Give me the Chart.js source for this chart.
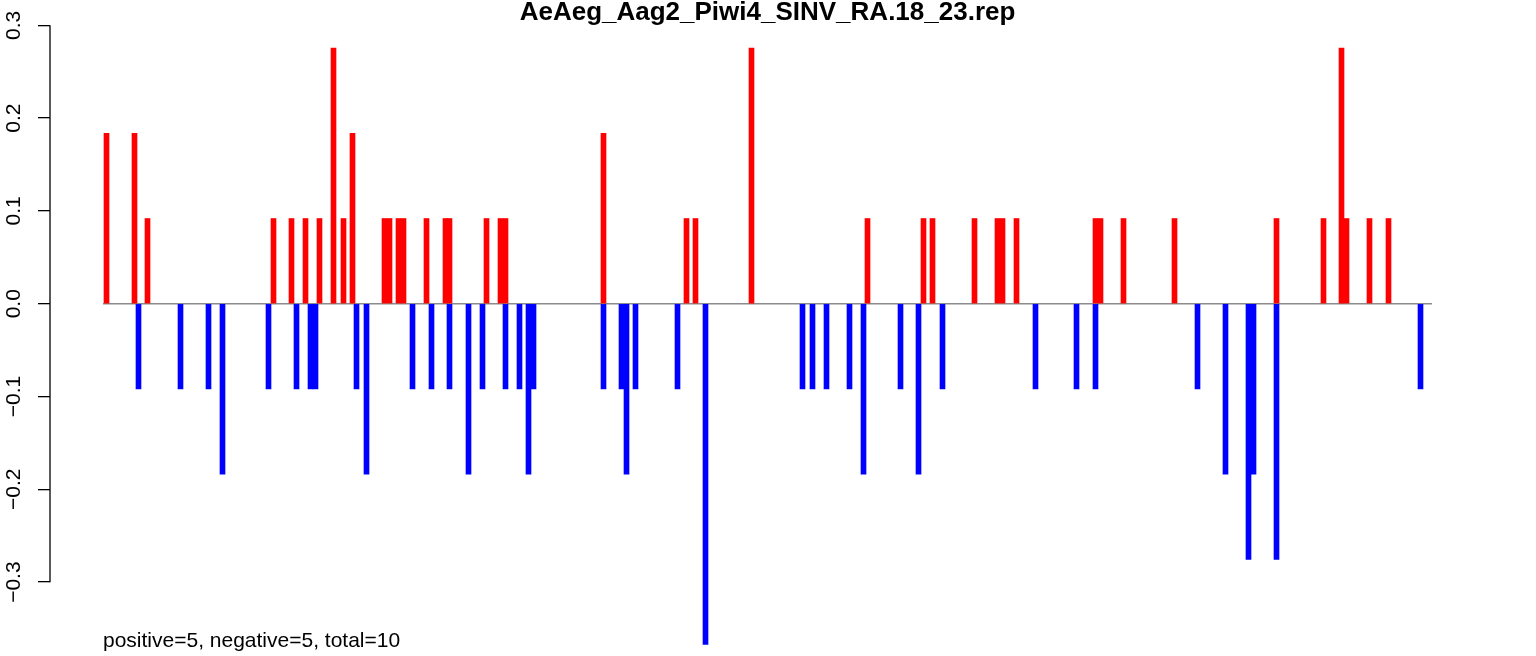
<!DOCTYPE html>
<html>
<head>
<meta charset="utf-8">
<script src="https://cdn.jsdelivr.net/npm/chart.js@4.4.1/dist/chart.umd.min.js"></script>
<style>
  body { margin: 0; background: #fff; }
  canvas { display: block; }
</style>
</head>
<body>
<canvas id="myChart" width="1536" height="656"></canvas>
<script>
// data: positions along the genome, values per position
const genomeRange = [0, 1329];

const posPositions = [3.5, 31.5, 44.5, 170.5, 188.5, 202.5, 216.5, 230.5, 240.5, 249.5,
  281.5, 286.5, 295.5, 300.5, 323.5, 342.5, 346.5, 383.5, 397.5, 402.5,
  500.5, 583.5, 592.5, 648.5, 764.5, 820.5, 829.5, 871.5, 894.5, 899.5,
  913.5, 992.5, 997.5, 1020.5, 1071.5, 1173.5, 1220.5, 1238.5, 1243.5, 1266.5, 1285.5];
const posValues = [0.1836, 0.1836, 0.0918, 0.0918, 0.0918, 0.0918, 0.0918, 0.2754, 0.0918, 0.1836,
  0.0918, 0.0918, 0.0918, 0.0918, 0.0918, 0.0918, 0.0918, 0.0918, 0.0918, 0.0918,
  0.1836, 0.0918, 0.0918, 0.2754, 0.0918, 0.0918, 0.0918, 0.0918, 0.0918, 0.0918,
  0.0918, 0.0918, 0.0918, 0.0918, 0.0918, 0.0918, 0.0918, 0.2754, 0.0918, 0.0918, 0.0918];

const negPositions = [35.5, 77.5, 105.5, 119.5, 165.5, 193.5, 207.5, 212.5, 253.5, 263.5,
  309.5, 328.5, 346.5, 365.5, 379.5, 402.5, 416.5, 425.5, 430.5, 500.5,
  518.5, 523.5, 532.5, 574.5, 602.5, 699.5, 709.5, 723.5, 746.5, 760.5,
  797.5, 815.5, 839.5, 932.5, 973.5, 992.5, 1094.5, 1122.5, 1145.5, 1150.5,
  1173.5, 1317.5];
const negValues = [-0.0918, -0.0918, -0.0918, -0.1836, -0.0918, -0.0918, -0.0918, -0.0918, -0.0918, -0.1836,
  -0.0918, -0.0918, -0.0918, -0.1836, -0.0918, -0.0918, -0.0918, -0.1836, -0.0918, -0.0918,
  -0.0918, -0.1836, -0.0918, -0.0918, -0.3672, -0.0918, -0.0918, -0.0918, -0.0918, -0.1836,
  -0.0918, -0.1836, -0.0918, -0.0918, -0.0918, -0.0918, -0.0918, -0.1836, -0.2754, -0.1836,
  -0.2754, -0.0918];

const yTicks = [-0.3, -0.2, -0.1, 0.0, 0.1, 0.2, 0.3];

const chartTitle = 'AeAeg_Aag2_Piwi4_SINV_RA.18_23.rep';
const footerText = 'positive=5, negative=5, total=10';

const fontFamily = "'Liberation Sans', Arial, Helvetica, sans-serif";

const toPoints = (xs, ys) => xs.map((x, i) => ({ x: x, y: ys[i] }));

const fmtTick = (v) => (v < 0 ? '\u2212' : '') + Math.abs(v).toFixed(1);

// R style axis line (only over the tick range) and the bottom note
const extrasPlugin = {
  id: 'extras',
  afterDraw(chart) {
    const ctx = chart.ctx;
    const y = chart.scales.y;
    const x = chart.scales.x;
    ctx.save();
    ctx.strokeStyle = '#000';
    ctx.lineWidth = 1.3;
    ctx.beginPath();
    ctx.moveTo(y.right, y.getPixelForValue(yTicks[yTicks.length - 1]));
    ctx.lineTo(y.right, y.getPixelForValue(yTicks[0]));
    ctx.stroke();

    ctx.fillStyle = '#000';
    ctx.font = '21px ' + fontFamily;
    ctx.textAlign = 'left';
    ctx.textBaseline = 'alphabetic';
    ctx.fillText(footerText, x.getPixelForValue(genomeRange[0]), 646.5);
    ctx.restore();
  }
};

const Config = {
  type: 'bar',
  data: {
    datasets: [
      {
        label: 'baseline',
        type: 'line',
        data: toPoints(genomeRange, [0, 0]),
        borderColor: '#8c8c8c',
        borderWidth: 1.5,
        pointRadius: 0,
        order: 3
      },
      {
        label: 'positive',
        data: toPoints(posPositions, posValues),
        backgroundColor: '#ff0000',
        barThickness: 5,
        grouped: false,
        clip: false,
        order: 1
      },
      {
        label: 'negative',
        data: toPoints(negPositions, negValues),
        backgroundColor: '#0000ff',
        barThickness: 5,
        grouped: false,
        clip: false,
        order: 2
      }
    ]
  },
  plugins: [extrasPlugin],
  options: {
    responsive: false,
    animation: false,
    layout: { padding: { left: 0, right: 51, top: 0, bottom: 0 } },
    scales: {
      x: {
        type: 'linear',
        offset: false,
        min: -53,
        max: 1382,
        display: false
      },
      y: {
        type: 'linear',
        min: -0.3796,
        max: 0.3013,
        afterBuildTicks: (scale) => { scale.ticks = yTicks.map(v => ({ value: v })); },
        afterFit: (scale) => {
          scale.width = 50;
          scale.paddingTop = 0;
          scale.paddingBottom = 0;
        },
        border: { display: false },
        grid: {
          drawOnChartArea: false,
          drawTicks: true,
          tickLength: 12,
          color: '#000',
          lineWidth: 1.3
        },
        ticks: {
          autoSkip: false,
          minRotation: 90,
          maxRotation: 90,
          crossAlign: 'center',
          padding: 3,
          color: '#000',
          font: { family: fontFamily, size: 21 },
          callback: fmtTick
        }
      }
    },
    plugins: {
      legend: { display: false },
      tooltip: { enabled: false },
      title: {
        display: true,
        fullSize: false,
        text: chartTitle,
        color: '#000',
        font: { family: fontFamily, size: 26, weight: 'bold', lineHeight: 0.85 },
        padding: { top: 2, bottom: 0 }
      }
    }
  }
};

const myChart = new Chart(document.getElementById('myChart'), Config);
</script>
</body>
</html>
